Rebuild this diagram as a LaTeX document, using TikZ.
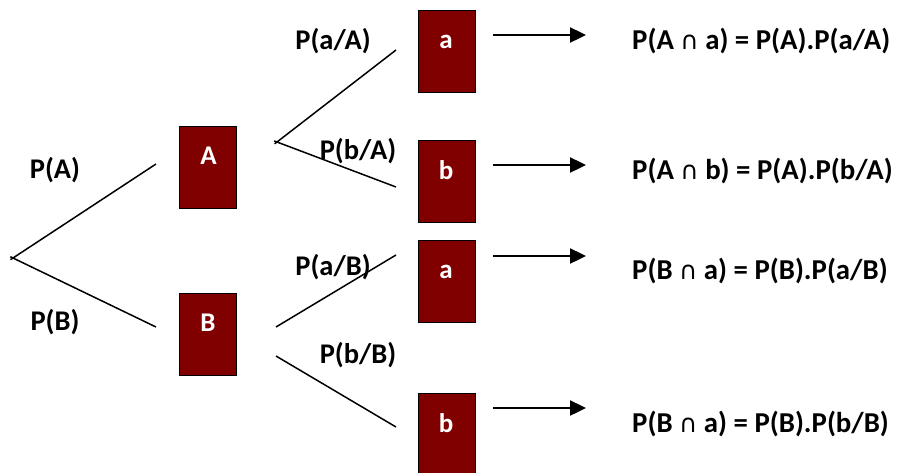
\documentclass[tikz,border=0pt]{standalone}
\usepackage{fontspec}
\setmainfont{Carlito}
\newfontfamily\symf{DejaVu Sans}
\usetikzlibrary{arrows.meta}
\definecolor{boxred}{HTML}{800000}
\newcommand{\capsym}{{\symf\mdseries\fontsize{25}{28}\selectfont ∩}}
\begin{document}
\begin{tikzpicture}[x=1pt,y=-1pt,
  box/.style={draw=black,line width=1.3pt,fill=boxred,inner sep=0pt,
    minimum width=57pt,minimum height=82pt,anchor=north west},
  letter/.style={text=white,font=\fontsize{27}{32}\selectfont\bfseries,inner sep=0pt,anchor=base},
  lbl/.style={text=black,font=\fontsize{28.5}{34}\selectfont\bfseries,inner sep=0pt,anchor=base},
  res/.style={text=black,font=\fontsize{28.8}{34}\selectfont\bfseries,inner sep=0pt,anchor=base west},
  branch/.style={draw=black,line width=1.5pt,shorten <=-3pt},
  arr/.style={draw=black,line width=2.4pt,-{Triangle[length=16pt,width=15pt]}}]
\useasboundingbox (0,0) rectangle (900,472);

% boxes
\node[box] (A) at (179,126) {};
\node[box] (B) at (179,293) {};
\node[box] (a1) at (418,10) {};
\node[box] (b1) at (418,140) {};
\node[box] (a2) at (418,240) {};
\node[box,minimum height=92pt] (b2) at (418,393) {};

% letters in boxes
\node[letter] (At) at (208.5,164) {A};
\node[letter] (Bt) at (208,331) {B};
\node[letter] (a1t) at (446,48) {a};
\node[letter] (b1t) at (446,179) {b};
\node[letter] (a2t) at (446,278) {a};
\node[letter] (b2t) at (446,432) {b};

% tree coordinates
\coordinate (root) at (13,258);
\coordinate (toA) at (156,164);
\coordinate (toB) at (156,327);
\coordinate (jA) at (277,142);
\coordinate (toa1) at (396,50);
\coordinate (tob1) at (396,187);
\coordinate (jBu) at (276,327);
\coordinate (toa2) at (396,255);
\coordinate (jBl) at (276,356);
\coordinate (tob2) at (396,427);

\draw[branch] (root) -- (toA);
\draw[branch] (root) -- (toB);
\draw[branch] (jA) -- (toa1);
\draw[branch] (jA) -- (tob1);
\draw[branch,shorten <=0pt] (jBu) -- (toa2);
\draw[branch,shorten <=0pt] (jBl) -- (tob2);

% branch labels
\node[lbl] (pA) at (55,178) {P(A)};
\node[lbl] (pB) at (55,330) {P(B)};
\node[lbl] (paA) at (333,49) {P(a/A)};
\node[lbl] (pbA) at (358,159) {P(b/A)};
\node[lbl] (paB) at (333,275) {P(a/B)};
\node[lbl] (pbB) at (358,363) {P(b/B)};

% arrows
\coordinate (s1) at (493,35);  \coordinate (e1) at (586,35);
\coordinate (s2) at (493,165); \coordinate (e2) at (586,165);
\coordinate (s3) at (493,256); \coordinate (e3) at (586,256);
\coordinate (s4) at (493,408); \coordinate (e4) at (586,408);
\draw[arr] (s1) -- (e1);
\draw[arr] (s2) -- (e2);
\draw[arr] (s3) -- (e3);
\draw[arr] (s4) -- (e4);

% results
\node[res] (r1) at (632,49) {P(A \capsym\ a) = P(A).P(a/A)};
\node[res] (r2) at (632,179) {P(A \capsym\ b) = P(A).P(b/A)};
\node[res] (r3) at (632,279) {P(B \capsym\ a) = P(B).P(a/B)};
\node[res] (r4) at (632,432) {P(B \capsym\ a) = P(B).P(b/B)};
\end{tikzpicture}
\end{document}
